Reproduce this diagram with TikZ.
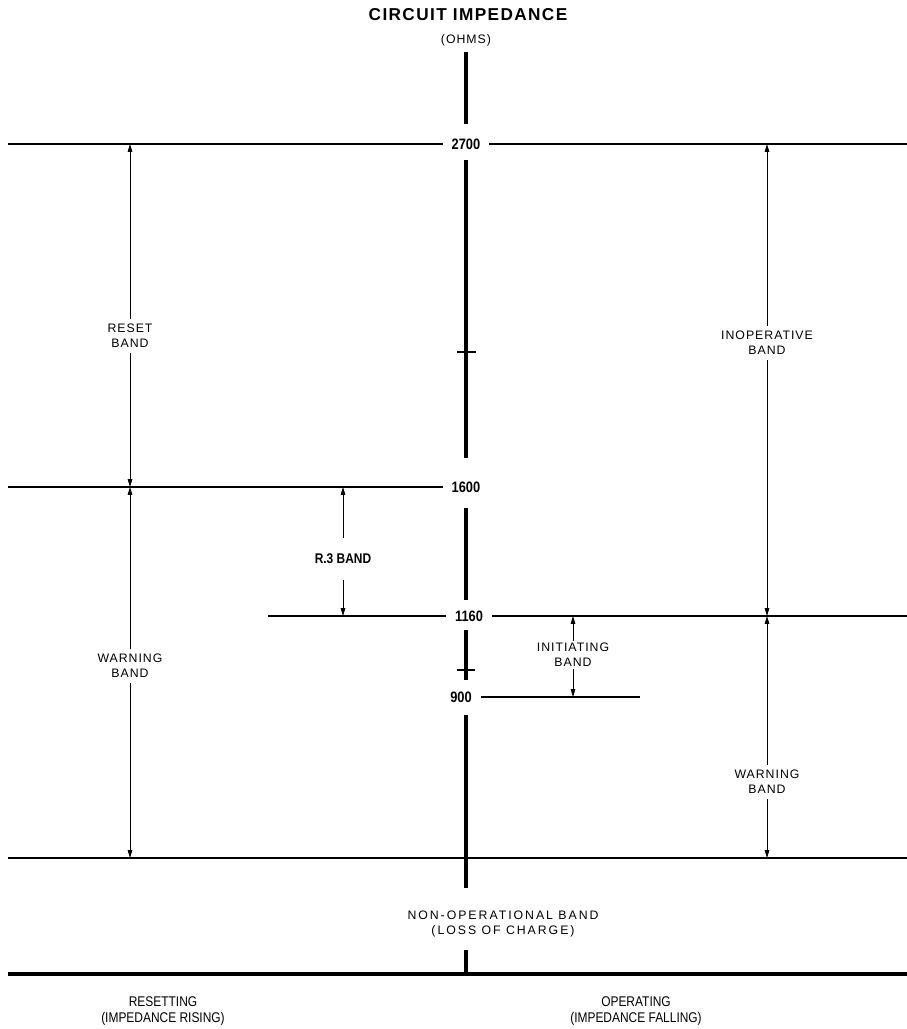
\documentclass[tikz,border=0pt]{standalone}
\usepackage{fontspec}
\setmainfont{Liberation Sans}
\newfontfamily\lblfont[LetterSpace=8]{Liberation Sans}
\newfontfamily\widefont[LetterSpace=16]{Liberation Sans}
\newfontfamily\numfont[FakeStretch=0.85]{Liberation Sans}
\usetikzlibrary{arrows.meta}

\begin{document}
\begin{tikzpicture}[x=0.02cm,y=-0.02cm,
    axis/.style={line width=2.3pt},
    level/.style={line width=1.1pt},
    base/.style={line width=2.8pt},
    band/.style={line width=0.55pt,-{Triangle[length=4.5pt,width=2.6pt]}},
    num/.style={font=\numfont\bfseries\fontsize{8.6}{10}\selectfont,inner xsep=5pt,inner ysep=2pt},
    lbl/.style={font=\lblfont\fontsize{7}{8.6}\selectfont,align=center,inner sep=3pt},
    foot/.style={font=\numfont\fontsize{8}{9.4}\selectfont,align=center}]
    \useasboundingbox (0,0) rectangle (907,1029);

    % title
    \node[font=\lblfont\bfseries\fontsize{9.8}{12}\selectfont] (title) at (468,15) {CIRCUIT IMPEDANCE};
    \node[lbl] (ohms) at (466,40) {(OHMS)};

    % impedance levels
    \node[num] (n2700) at (466,144) {2700};
    \node[num] (n1600) at (466,487) {1600};
    \node[num] (n1160) at (469,616) {1160};
    \node[num] (n900) at (461,697) {900};

    \coordinate (L2700) at (8,144);
    \coordinate (R2700) at (907,144);
    \coordinate (L1600) at (8,487);
    \coordinate (L1160) at (268,616);
    \coordinate (R1160) at (907,616);
    \coordinate (R900) at (640,697);
    \coordinate (Lwarn) at (8,858);
    \coordinate (Rwarn) at (907,858);
    \coordinate (Lbase) at (8,974);
    \coordinate (Rbase) at (907,974);

    \draw[level] (L2700) -- (n2700.west) (n2700.east) -- (R2700);
    \draw[level] (L1600) -- (n1600.west);
    \draw[level] (L1160) -- (n1160.west) (n1160.east) -- (R1160);
    \draw[level] (n900.east) -- (R900);
    \draw[level] (Lwarn) -- (Rwarn);
    \draw[base] (Lbase) -- (Rbase);

    % axis with ticks
    \draw[axis] (466,52) -- (466,124) (466,160) -- (466,458)
        (466,508) -- (466,600) (466,630) -- (466,680)
        (466,715) -- (466,888) (466,950) -- (Lbase -| 466,974);
    \draw[level] (457,352) -- (476,352) (457,670) -- (475,670);

    % bands
    \node[lbl] (reset) at (130,336) {RESET\\BAND};
    \node[lbl] (warnL) at (130,666) {WARNING\\BAND};
    \node[num,font=\numfont\bfseries\fontsize{8}{10}\selectfont,inner ysep=9pt] (r3) at (343,559) {R.3 BAND};
    \node[lbl] (inop) at (767,343) {INOPERATIVE\\BAND};
    \node[lbl] (warnR) at (767,782) {WARNING\\BAND};
    \node[lbl,inner sep=1pt] (init) at (573,655) {INITIATING\\BAND};

    \draw[band] (reset.north) -- (reset |- L2700);
    \draw[band] (reset.south) -- (reset |- L1600);
    \draw[band] (warnL.north) -- (warnL |- L1600);
    \draw[band] (warnL.south) -- (warnL |- Lwarn);
    \draw[band] (r3.north) -- (r3 |- L1600);
    \draw[band] (r3.south) -- (r3 |- L1160);
    \draw[band] (inop.north) -- (inop |- R2700);
    \draw[band] (inop.south) -- (inop |- R1160);
    \draw[band] (warnR.north) -- (warnR |- R1160);
    \draw[band] (warnR.south) -- (warnR |- Rwarn);
    \draw[band] (init.north) -- (init |- R1160);
    \draw[band] (init.south) -- (init |- R900);

    \node[font=\widefont\fontsize{7}{8.6}\selectfont,align=center] (nonop) at (503,924)
        {NON-OPERATIONAL BAND\\(LOSS OF CHARGE)};

    % directions
    \node[foot] (resetting) at (163,1011) {RESETTING\\(IMPEDANCE RISING)};
    \node[foot] (operating) at (636,1011) {OPERATING\\(IMPEDANCE FALLING)};
\end{tikzpicture}
\end{document}
